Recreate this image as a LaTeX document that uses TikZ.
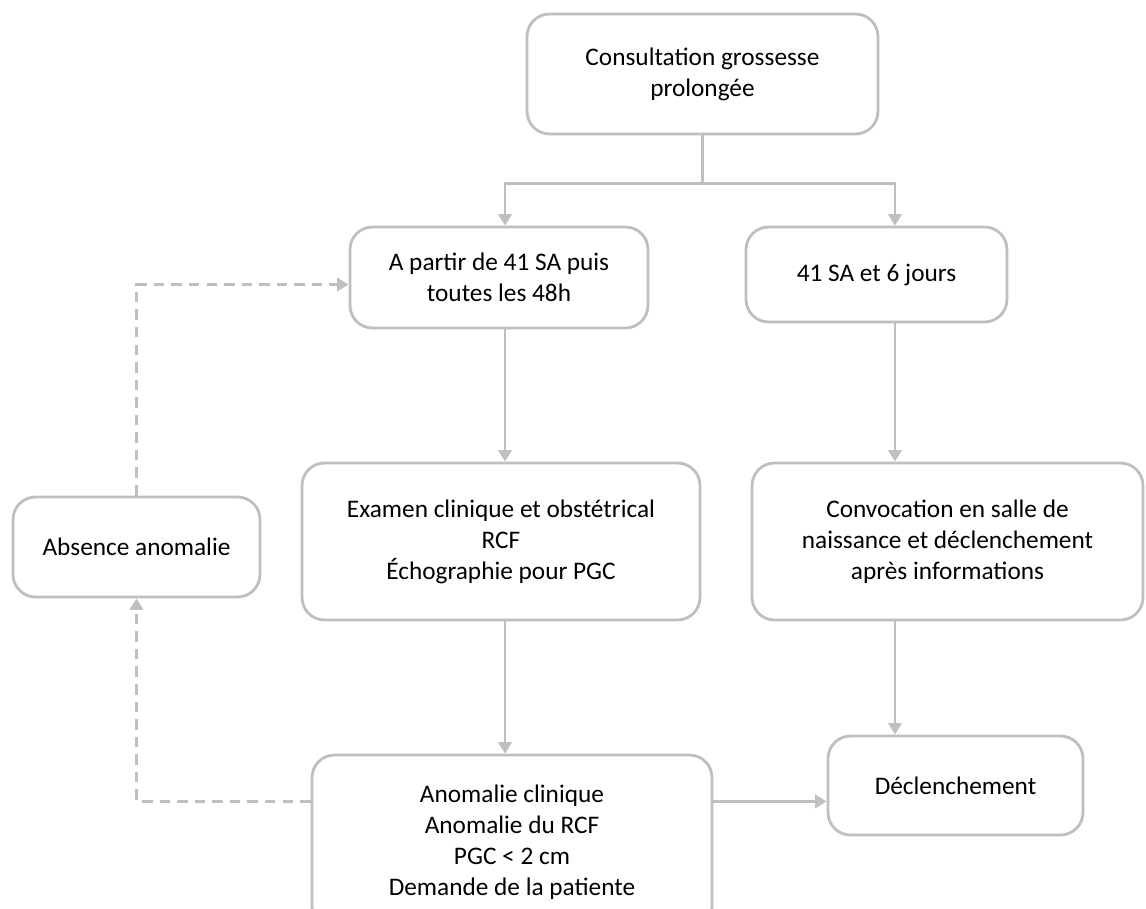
\documentclass[tikz,border=0pt]{standalone}
\usepackage{fontspec}
\setmainfont{Carlito}
\usepackage{tikz}
\usetikzlibrary{calc}
\usetikzlibrary{arrows.meta}
\definecolor{lineGray}{HTML}{BFBFBF}
\tikzstyle{stepnode} = [draw=lineGray, line width=1.6pt, rectangle, rounded corners=0.45cm, align=center, font=\fontsize{14.4}{17.6}\selectfont]
\tikzstyle{linkline} = [draw=lineGray, line width=1.6pt]
\tikzstyle{linkarrow} = [linkline, -{Triangle[length=6.5pt,width=7.5pt]}]
\tikzstyle{loopdash} = [linkarrow, dash pattern=on 6pt off 4pt]

\begin{document}
\begin{tikzpicture}[x=0.02cm, y=-0.02cm]
    \useasboundingbox (0,0) rectangle (1146,909);
    \node[stepnode, minimum width=7.02cm, minimum height=2.4cm] (cons_start) at (702.5,74) {Consultation grossesse\\prolongée};
    \node[stepnode, minimum width=5.96cm, minimum height=2.02cm] (check_41) at ($(cons_start)+(-203.5,203.5)$) {A partir de 41 SA puis\\toutes les 48h};
    \node[stepnode, minimum width=5.22cm, minimum height=1.9cm] (day_41_6) at ($(cons_start)+(174,200.5)$) {41 SA et 6 jours};
    \node[stepnode, minimum width=7.96cm, minimum height=3.14cm] (exam_block) at ($(check_41)+(2,264)$) {Examen clinique et obstétrical\\RCF\\Échographie pour PGC};
    \node[stepnode, minimum width=7.82cm, minimum height=3.14cm] (convoc_block) at ($(day_41_6)+(71,267)$) {Convocation en salle de\\naissance et déclenchement\\après informations};
    \node[stepnode, minimum width=4.94cm, minimum height=2cm] (absence_block) at ($(exam_block)+(-364.5,5.5)$) {Absence anomalie};
    \node[stepnode, minimum width=8cm, minimum height=3.5cm] (anomaly_block) at ($(exam_block)+(11,301)$) {Anomalie clinique\\Anomalie du RCF\\PGC < 2 cm\\Demande de la patiente};
    \node[stepnode, minimum width=5.1cm, minimum height=1.98cm] (induction_block) at ($(convoc_block)+(8,244)$) {Déclenchement};

    \coordinate (left_col) at ($(check_41.north)+(6,0)$);
    \coordinate (right_col) at ($(day_41_6.north)+(18.5,0)$);
    \coordinate (induction_in) at ($(induction_block.west)+(0,16)$);

    \draw[linkline] (cons_start.south) -- ++(0,48) coordinate (fork);
    \draw[linkarrow] (fork) -| (left_col);
    \draw[linkarrow] (fork) -| (right_col);
    \draw[linkarrow] (check_41.south -| left_col) -- (exam_block.north -| left_col);
    \draw[linkarrow] (exam_block.south -| left_col) -- (anomaly_block.north -| left_col);
    \draw[linkarrow] (day_41_6.south -| right_col) -- (convoc_block.north -| right_col);
    \draw[linkarrow] (convoc_block.south -| right_col) -- (induction_block.north -| right_col);
    \draw[linkarrow] (anomaly_block.east |- induction_in) -- (induction_in);
    \draw[loopdash] (anomaly_block.west |- induction_in) -| (absence_block.south);
    \draw[loopdash] (absence_block.north) |- ($(check_41.west)+(0,7)$);
\end{tikzpicture}
\end{document}
